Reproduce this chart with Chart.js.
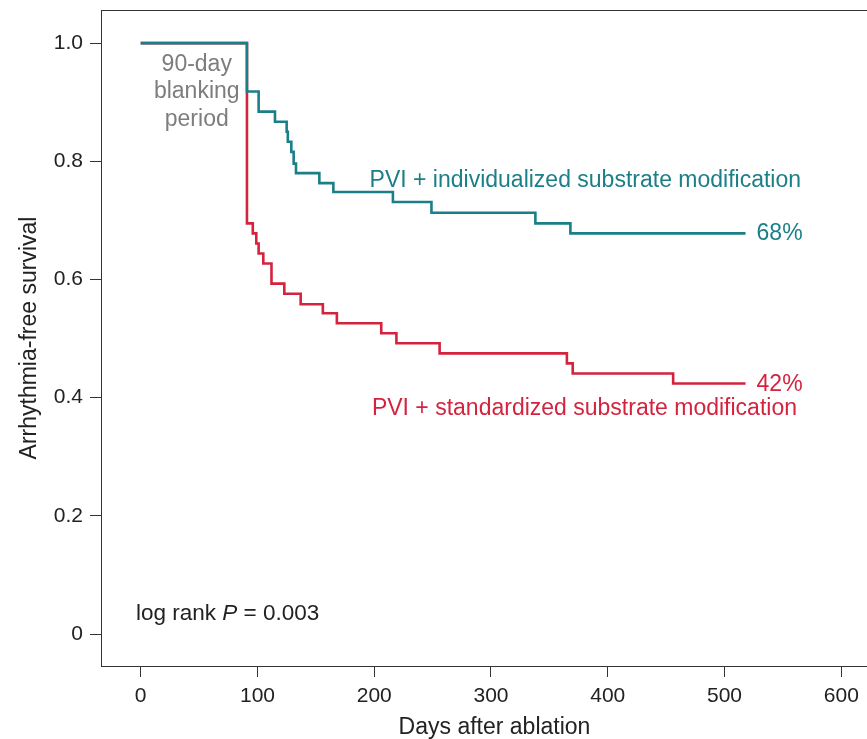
<!DOCTYPE html>
<html>
<head>
<meta charset="utf-8">
<title>Arrhythmia-free survival</title>
<script src="https://cdn.jsdelivr.net/npm/chart.js@4.4.1/dist/chart.umd.min.js"></script>
<style>
    html, body { margin: 0; padding: 0; background: #fff; overflow: hidden; }
    #wrap { width: 900px; height: 739px; }
</style>
</head>
<body>
<div id="wrap"><canvas id="km" width="900" height="739"></canvas></div>
<script>
// ---- data ----
const tealDays = [0, 91, 101, 115, 125, 126, 129, 131, 133, 153, 165, 216, 249, 338, 368, 518];
const tealSurv = [1.0, 0.918, 0.884, 0.867, 0.850, 0.833, 0.816, 0.796, 0.780, 0.763, 0.748, 0.731, 0.713, 0.695, 0.678, 0.678];

const redDays = [0, 91, 96, 99, 101, 105, 112, 123, 137, 156, 168, 206, 219, 256, 365, 370, 456, 518];
const redSurv = [1.0, 0.695, 0.678, 0.661, 0.644, 0.627, 0.593, 0.576, 0.558, 0.543, 0.526, 0.509, 0.492, 0.475, 0.458, 0.441, 0.424, 0.424];

const xTickValues = [0, 100, 200, 300, 400, 500, 600];
const yTickValues = [0, 0.2, 0.4, 0.6, 0.8, 1.0];

const tealLabel = 'PVI + individualized substrate modification';
const redLabel = 'PVI + standardized substrate modification';
const tealEndLabel = '68%';
const redEndLabel = '42%';
const blankingLines = ['90-day', 'blanking', 'period'];

const TEAL = '#1b7f87';
const RED = '#d4233f';
const GREY = '#7d7d7d';
const INK = '#222';
const FONT = '"Liberation Sans", Arial, Helvetica, sans-serif';

const toPoints = (xs, ys) => xs.map((x, i) => ({ x: x, y: ys[i] }));

// 枠線と注釈テキスト
const annotations = {
    id: 'annotations',
    beforeDatasetsDraw(chart) {
        const { ctx, chartArea } = chart;
        ctx.save();
        ctx.strokeStyle = '#333';
        ctx.lineWidth = 1;
        ctx.strokeRect(chartArea.left + 0.5, chartArea.top + 0.5,
            chartArea.right - chartArea.left, chartArea.bottom - chartArea.top);
        ctx.restore();
    },
    afterDatasetsDraw(chart) {
        const { ctx } = chart;
        const xs = chart.scales.x;
        const ys = chart.scales.y;
        const px = v => xs.getPixelForValue(v);
        const py = v => ys.getPixelForValue(v);
        ctx.save();
        ctx.textBaseline = 'middle';
        ctx.font = '23px ' + FONT;

        // blanking period
        ctx.fillStyle = GREY;
        ctx.textAlign = 'center';
        const blankY = [0.964, 0.917, 0.871];
        blankingLines.forEach((t, i) => ctx.fillText(t, px(48), py(blankY[i])));

        // series labels
        ctx.textAlign = 'left';
        ctx.fillStyle = TEAL;
        ctx.fillText(tealLabel, px(196), py(0.768));
        const tEnd = tealDays.length - 1;
        ctx.fillText(tealEndLabel, px(tealDays[tEnd]) + 11, py(tealSurv[tEnd]));

        ctx.fillStyle = RED;
        ctx.fillText(redLabel, px(198), py(0.382));
        const rEnd = redDays.length - 1;
        ctx.fillText(redEndLabel, px(redDays[rEnd]) + 11, py(redSurv[rEnd]) + 1);

        // log rank
        ctx.fillStyle = INK;
        let x = px(-4);
        const y = py(0.034);
        const parts = [['log rank ', 'normal'], ['P', 'italic'], [' = 0.003', 'normal']];
        parts.forEach(([t, style]) => {
            ctx.font = (style === 'italic' ? 'italic ' : '') + '22.5px ' + FONT;
            ctx.fillText(t, x, y);
            x += ctx.measureText(t).width;
        });
        ctx.restore();
    }
};

new Chart(document.getElementById('km'), {
    type: 'line',
    data: {
        datasets: [{
            label: tealLabel,
            data: toPoints(tealDays, tealSurv),
            borderColor: TEAL,
            borderWidth: 2.6,
            stepped: 'before',
            pointRadius: 0,
            fill: false
        }, {
            label: redLabel,
            data: toPoints(redDays, redSurv),
            borderColor: RED,
            borderWidth: 2.6,
            stepped: 'before',
            pointRadius: 0,
            fill: false
        }]
    },
    options: {
        responsive: false,
        animation: false,
        layout: { padding: { left: 0, right: 12, top: 10, bottom: 0 } },
        plugins: {
            legend: { display: false },
            tooltip: { enabled: false }
        },
        scales: {
            x: {
                type: 'linear',
                min: -34,
                max: 640,
                afterBuildTicks: scale => { scale.ticks = xTickValues.map(v => ({ value: v })); },
                afterFit: scale => {
                    scale.height = 73;
                    scale.paddingLeft = 0;
                    scale.paddingRight = 0;
                },
                grid: { drawOnChartArea: false, tickLength: 11, tickColor: '#333' },
                border: { display: true, color: '#333' },
                ticks: {
                    padding: 7,
                    color: INK,
                    maxRotation: 0,
                    font: { family: FONT, size: 21 },
                    callback: v => String(v)
                },
                title: {
                    display: true,
                    text: 'Days after ablation',
                    color: INK,
                    font: { family: FONT, size: 23, lineHeight: 1 },
                    padding: { top: 0, bottom: 0 }
                }
            },
            y: {
                type: 'linear',
                min: -0.054,
                max: 1.056,
                afterBuildTicks: scale => { scale.ticks = yTickValues.map(v => ({ value: v })); },
                afterFit: scale => {
                    scale.width = 101;
                    scale.paddingTop = 0;
                    scale.paddingBottom = 0;
                },
                grid: { drawOnChartArea: false, tickLength: 11, tickColor: '#333' },
                border: { display: true, color: '#333' },
                ticks: {
                    padding: 7,
                    color: INK,
                    font: { family: FONT, size: 21 },
                    callback: v => (v === 0 ? '0' : v.toFixed(1))
                },
                title: {
                    display: true,
                    text: 'Arrhythmia-free survival',
                    color: INK,
                    font: { family: FONT, size: 23, lineHeight: 1 },
                    padding: { top: 18, bottom: 0 }
                }
            }
        }
    },
    plugins: [annotations]
});
</script>
</body>
</html>
